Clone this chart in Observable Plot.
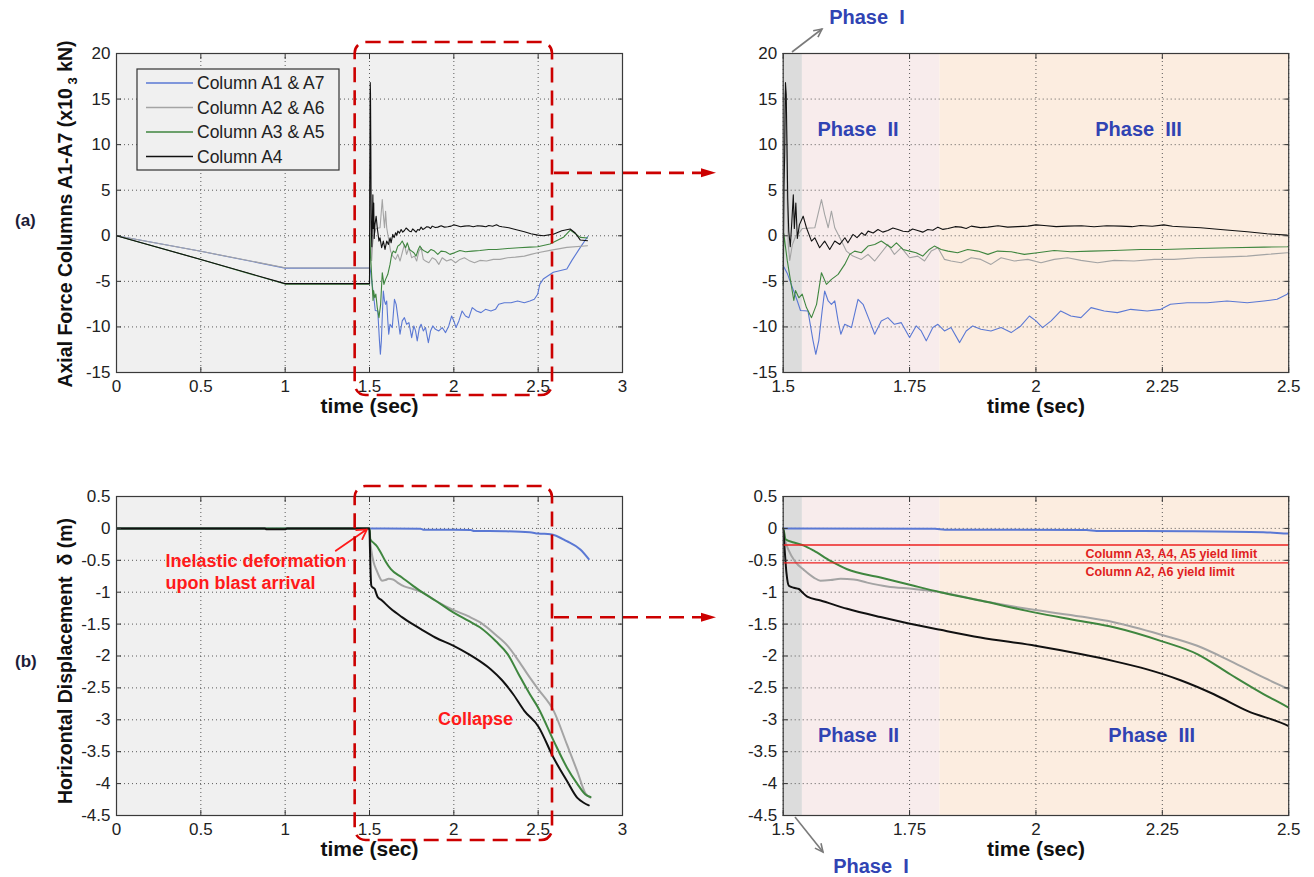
<!DOCTYPE html>
<html><head><meta charset="utf-8">
<script src="https://cdn.jsdelivr.net/npm/d3@7"></script>
<script src="https://cdn.jsdelivr.net/npm/@observablehq/plot@0.6"></script>
<style>
html,body{margin:0;padding:0;background:#fff;}
#root{position:relative;width:1314px;height:877px;overflow:hidden;background:#fff;}
#root > svg{position:absolute;overflow:visible;}
</style></head><body><div id="root"></div>
<script>
// ---------- DATA ----------
const seriesKeys = ["A1", "A2", "A3", "A4"];
const seriesNames = ["Column A1 & A7", "Column A2 & A6", "Column A3 & A5", "Column A4"];

// Axial force (x10^3 kN) vs time (sec): [t, value]
const forceA1 = [[0,0],[0.5,-1.7],[1.0,-3.55],[1.5,-3.55],[1.5012,-3.4],[1.5079,-4.1],[1.5177,-5.6],[1.5276,-7.1],[1.5342,-8.2],[1.549,-8.25],[1.559,-11.5],[1.5645,-13.0],[1.5704,-11.5],[1.577,-8.25],[1.582,-6.06],[1.589,-7.15],[1.5954,-7.52],[1.602,-7.15],[1.6086,-9.34],[1.614,-10.8],[1.6217,-9.71],[1.635,-10.07],[1.648,-6.97],[1.658,-7.52],[1.671,-9.34],[1.681,-10.8],[1.694,-9.34],[1.707,-8.98],[1.72,-9.71],[1.7336,-9.53],[1.75,-11.17],[1.763,-9.89],[1.773,-10.44],[1.783,-11.53],[1.796,-10.07],[1.806,-9.71],[1.819,-10.44],[1.832,-10.07],[1.849,-11.72],[1.862,-10.44],[1.875,-9.89],[1.891,-10.26],[1.911,-10.44],[1.931,-10.07],[1.951,-10.62],[1.97,-9.89],[1.987,-8.8],[2.0,-9.34],[2.013,-10.07],[2.03,-9.34],[2.049,-8.25],[2.069,-8.8],[2.089,-8.98],[2.109,-7.88],[2.135,-8.25],[2.161,-8.43],[2.1875,-8.07],[2.22,-8.25],[2.247,-8.07],[2.266,-7.52],[2.299,-7.34],[2.339,-7.34],[2.378,-7.15],[2.418,-7.34],[2.451,-7.15],[2.477,-6.97],[2.497,-6.42],[2.51,-5.3],[2.53,-4.75],[2.59,-4.0],[2.67,-3.65],[2.70,-2.7],[2.75,-1.27],[2.793,-0.1]];
const forceA2 = [[0,0],[0.5,-1.7],[1.0,-3.5],[1.5,-3.55],[1.5012,3],[1.503,15.5],[1.5045,16],[1.506,14],[1.508,4],[1.51,-1],[1.513,-2.7],[1.518,-1.0],[1.525,0.0],[1.531,0.3],[1.538,0.8],[1.5625,0.88],[1.5757,3.98],[1.582,2.34],[1.589,0.88],[1.5954,2.7],[1.602,0.88],[1.612,-0.22],[1.625,-1.68],[1.638,-2.23],[1.6546,-2.59],[1.6678,-2.04],[1.681,-2.77],[1.694,-1.86],[1.707,-0.95],[1.72,-2.04],[1.7336,-1.31],[1.75,-2.41],[1.766,-2.23],[1.7796,-2.77],[1.7928,-1.68],[1.806,-1.31],[1.819,-2.59],[1.832,-2.77],[1.852,-2.96],[1.872,-2.41],[1.891,-2.59],[1.911,-3.14],[1.931,-2.41],[1.957,-2.77],[1.984,-2.59],[2.01,-2.96],[2.036,-2.59],[2.0625,-2.41],[2.089,-2.7],[2.122,-2.96],[2.155,-2.7],[2.194,-2.77],[2.234,-2.59],[2.273,-2.59],[2.319,-2.41],[2.365,-2.34],[2.418,-2.23],[2.457,-2.04],[2.497,-1.86],[2.57,-1.6],[2.67,-1.27],[2.793,-1.09]];
const forceA3 = [[0,0],[0.5,-2.6],[1.0,-5.3],[1.5,-5.3],[1.5012,0.25],[1.504,-1.0],[1.508,-2.7],[1.5144,-4.9],[1.521,-7.1],[1.5243,-6.0],[1.531,-6.8],[1.5376,-6.4],[1.546,-7.88],[1.556,-8.98],[1.566,-7.52],[1.5757,-4.05],[1.5855,-5.33],[1.5954,-4.78],[1.6086,-4.23],[1.6217,-3.14],[1.6316,-2.04],[1.6414,-1.68],[1.6546,-1.86],[1.6678,-1.13],[1.681,-0.95],[1.694,-0.58],[1.704,-0.95],[1.714,-1.31],[1.724,-0.77],[1.737,-1.5],[1.75,-1.68],[1.763,-1.86],[1.776,-2.23],[1.789,-1.5],[1.799,-1.13],[1.8125,-1.5],[1.826,-1.68],[1.845,-1.86],[1.865,-1.5],[1.885,-1.68],[1.905,-2.04],[1.924,-1.68],[1.951,-1.75],[1.977,-2.04],[2.003,-1.86],[2.036,-1.61],[2.069,-1.75],[2.109,-1.68],[2.155,-1.61],[2.207,-1.5],[2.253,-1.5],[2.319,-1.39],[2.385,-1.31],[2.451,-1.24],[2.497,-1.2],[2.57,-0.9],[2.65,-0.17],[2.69,0.63],[2.75,-0.17],[2.793,-0.25]];
const forceA4 = [[0,0],[0.5,-2.6],[1.0,-5.25],[1.5,-5.25],[1.5015,5.4],[1.503,9],[1.5045,16.8],[1.506,15.5],[1.5075,10],[1.509,4],[1.511,0.5],[1.514,-1.2],[1.517,1.5],[1.52,4.5],[1.522,0.8],[1.525,3.6],[1.528,-0.3],[1.532,1.2],[1.5395,2.15],[1.546,0.88],[1.556,-0.58],[1.5625,-0.22],[1.572,-1.31],[1.582,-0.58],[1.592,-1.5],[1.602,-0.58],[1.612,-0.95],[1.622,-0.22],[1.628,-0.77],[1.638,0.15],[1.646,-0.2],[1.655,0.33],[1.662,0.05],[1.668,0.51],[1.678,0.3],[1.6875,0.69],[1.697,0.4],[1.707,0.58],[1.717,0.85],[1.727,0.69],[1.737,0.5],[1.747,0.44],[1.756,0.75],[1.766,0.58],[1.776,0.4],[1.786,0.69],[1.796,0.6],[1.806,0.95],[1.816,0.7],[1.826,0.8],[1.84,1.0],[1.852,0.95],[1.862,0.8],[1.872,1.06],[1.89,0.9],[1.905,0.95],[1.925,1.1],[1.944,0.95],[1.964,1.0],[1.984,1.06],[2.0,1.2],[2.016,1.13],[2.04,1.0],[2.0625,1.06],[2.09,1.1],[2.115,0.99],[2.14,1.1],[2.168,1.06],[2.19,1.0],[2.207,1.13],[2.23,1.05],[2.253,1.2],[2.27,1.05],[2.286,0.99],[2.326,0.88],[2.365,0.69],[2.418,0.44],[2.457,0.22],[2.497,0.07],[2.532,0.0],[2.59,0.18],[2.64,0.55],[2.69,0.75],[2.72,0.3],[2.75,-0.47],[2.793,-0.55]];

// Horizontal displacement (m) vs time (sec): [t, value]
const dispA1 = [[0,0],[1.5,0],[1.8,-0.005],[1.82,-0.02],[2.1,-0.025],[2.12,-0.04],[2.3,-0.045],[2.45,-0.06],[2.5,-0.08],[2.573,-0.09],[2.67,-0.2],[2.75,-0.33],[2.8,-0.48]];
const dispA2 = [[0,0],[1.5,0],[1.5026,-0.14],[1.5112,-0.35],[1.5244,-0.53],[1.5409,-0.65],[1.5606,-0.77],[1.5738,-0.82],[1.5936,-0.81],[1.6134,-0.79],[1.6398,-0.8],[1.6661,-0.85],[1.7057,-0.91],[1.7584,-0.95],[1.8111,-1.0],[1.89,-1.13],[1.999,-1.28],[2.088,-1.38],[2.154,-1.47],[2.2495,-1.67],[2.319,-1.84],[2.385,-2.08],[2.451,-2.34],[2.5,-2.52],[2.592,-2.86],[2.671,-3.39],[2.731,-3.8],[2.78,-4.15],[2.81,-4.22]];
const dispA3 = [[0,0],[1.5,0],[1.5046,-0.17],[1.521,-0.22],[1.541,-0.27],[1.5606,-0.35],[1.5936,-0.51],[1.6266,-0.64],[1.6925,-0.77],[1.7584,-0.9],[1.8111,-1.0],[1.89,-1.13],[1.999,-1.32],[2.088,-1.45],[2.154,-1.55],[2.2495,-1.77],[2.319,-1.97],[2.385,-2.29],[2.451,-2.6],[2.5,-2.81],[2.592,-3.33],[2.671,-3.75],[2.731,-4.0],[2.78,-4.17],[2.81,-4.21]];
const dispA4 = [[0,0],[0.88,0],[0.89,-0.015],[1.0,-0.015],[1.01,0],[1.5,0],[1.5026,-0.3],[1.5066,-0.71],[1.5112,-0.9],[1.521,-0.93],[1.531,-0.95],[1.5376,-1.0],[1.5475,-1.07],[1.574,-1.13],[1.6266,-1.26],[1.6925,-1.39],[1.7485,-1.49],[1.811,-1.59],[1.89,-1.71],[1.999,-1.84],[2.088,-1.97],[2.154,-2.08],[2.22,-2.21],[2.286,-2.38],[2.352,-2.6],[2.418,-2.86],[2.5,-3.1],[2.592,-3.6],[2.671,-3.96],[2.731,-4.22],[2.77,-4.3],[2.80,-4.34]];

// Ticks
const fullTimeTicks = [0, 0.5, 1, 1.5, 2, 2.5, 3];
const zoomTimeTicks = [1.5, 1.75, 2, 2.25, 2.5];
const forceTicks = [-15, -10, -5, 0, 5, 10, 15, 20];
const dispTicks = [0.5, 0, -0.5, -1, -1.5, -2, -2.5, -3, -3.5, -4, -4.5];

// Phases (zoomed panels)
const phaseNames = ["I", "II", "III"];
const phaseStart = [1.5, 1.538, 1.81];
const phaseEnd = [1.538, 1.81, 2.5];

// Yield limits (m)
const yieldValues = [-0.26, -0.54];
const yieldLabels = ["Column A3, A4, A5 yield limit", "Column A2, A6 yield limit"];

// ---------- STYLE ----------
const FONT = "Arial, 'Liberation Sans', sans-serif";
const seriesColor = {A1: "#5a78d4", A2: "#a4a4a4", A3: "#3f863f", A4: "#111111"};
const phaseFill = {I: "#dcdcdc", II: "#f8ecec", III: "#fcede0"};
const RED = "#cc0000";
const PHASE_BLUE = "#3043b3";

const forceSeries = [forceA1, forceA2, forceA3, forceA4];
const dispSeries = [dispA1, dispA2, dispA3, dispA4];
const phases = phaseNames.map((name, i) => ({name, start: phaseStart[i], end: phaseEnd[i]}));

const root = document.getElementById("root");
const fmt = d => String(d);

function panel({xDomain, yDomain, xTicks, yTicks, width, mL, mR, bg, bands, series, lineWidth, curve, extra}) {
  const marks = [];
  if (bg) marks.push(Plot.frame({fill: bg}));
  if (bands) for (const b of bands) marks.push(Plot.rect([b], {x1: "start", x2: "end", fill: phaseFill[b.name]}));
  marks.push(Plot.gridX(xTicks, {stroke: "#4a4a4a", strokeOpacity: 0.9, strokeDasharray: "1,3"}));
  marks.push(Plot.gridY(yTicks, {stroke: "#4a4a4a", strokeOpacity: 0.9, strokeDasharray: "1,3"}));
  series.forEach((data, i) => {
    marks.push(Plot.line(data, {x: d => d[0], y: d => d[1], stroke: seriesColor[seriesKeys[i]], strokeWidth: lineWidth, curve: curve || "linear", clip: true}));
  });
  if (extra) marks.push(...extra);
  for (const a of ["top", "bottom"]) marks.push(Plot.axisX(xTicks, {anchor: a, tickSize: -5, tickFormat: () => "", stroke: "#333", label: null}));
  for (const a of ["left", "right"]) marks.push(Plot.axisY(yTicks, {anchor: a, tickSize: -5, tickFormat: () => "", stroke: "#333", label: null}));
  marks.push(Plot.axisX(xTicks, {anchor: "bottom", tickSize: 0, tickPadding: 7, tickFormat: fmt, label: null, fill: "#222", fontSize: 17}));
  marks.push(Plot.axisY(yTicks, {anchor: "left", tickSize: 0, tickPadding: 6, tickFormat: fmt, label: null, fill: "#222", fontSize: 17}));
  marks.push(Plot.frame({stroke: "#3a3a3a", strokeWidth: 1.2}));
  marks.push(Plot.text(["time (sec)"], {text: d => d, frameAnchor: "bottom", dy: 40, fontWeight: "bold", fontSize: 21, fill: "#111"}));
  return Plot.plot({
    width, height: 420, marginLeft: mL, marginRight: mR, marginTop: 53, marginBottom: 48,
    x: {domain: xDomain, label: null}, y: {domain: yDomain, label: null},
    style: {fontFamily: FONT, fontSize: "17px", background: "transparent", color: "#222", overflow: "visible"},
    marks
  });
}
function place(svg, left, top) { svg.style.left = left + "px"; svg.style.top = top + "px"; root.appendChild(svg); return svg; }

const phaseText = (label, x, y) => Plot.text([label], {text: d => d, x, y, fill: PHASE_BLUE, fontWeight: "bold", fontSize: 20});

// (a) left
const pA = place(panel({xDomain: [0, 3], yDomain: [-15, 20], xTicks: fullTimeTicks, yTicks: forceTicks,
  width: 650, mL: 116, mR: 28, bg: "#f0f0f0", series: forceSeries, lineWidth: 1.1}), 0, 0);
// (a) right
const pAz = place(panel({xDomain: [1.5, 2.5], yDomain: [-15, 20], xTicks: zoomTimeTicks, yTicks: forceTicks,
  width: 614, mL: 82.7, mR: 25.8, bands: phases, series: forceSeries, lineWidth: 1.1,
  extra: [phaseText("Phase\u00a0\u00a0II", 1.648, 11.6), phaseText("Phase\u00a0\u00a0III", 2.203, 11.6)]}), 700, 0);
// (b) left
const pB = place(panel({xDomain: [0, 3], yDomain: [-4.5, 0.5], xTicks: fullTimeTicks, yTicks: dispTicks,
  width: 650, mL: 116, mR: 28, bg: "#f0f0f0", series: dispSeries, lineWidth: 2, curve: "monotone-x",
  extra: [
    Plot.text(["Inelastic deformation", "upon blast arrival"], {text: d => d, x: 0.29, y: (d, i) => [-0.51, -0.855][i], textAnchor: "start", fill: "#ff1a1a", fontWeight: "bold", fontSize: 18}),
    Plot.arrow([0], {x1: 1.3, y1: -0.35, x2: 1.485, y2: -0.015, stroke: "#ff1a1a", strokeWidth: 1.8, headLength: 9}),
    Plot.text(["Collapse"], {text: d => d, x: 2.128, y: -2.99, fill: "#ff1a1a", fontWeight: "bold", fontSize: 18})
  ]}), 0, 443);
// (b) right
const pBz = place(panel({xDomain: [1.5, 2.5], yDomain: [-4.5, 0.5], xTicks: zoomTimeTicks, yTicks: dispTicks,
  width: 614, mL: 82.7, mR: 25.8, bands: phases, series: dispSeries, lineWidth: 2, curve: "monotone-x",
  extra: [
    Plot.ruleY(yieldValues, {stroke: "#ee2222", strokeWidth: 1.3}),
    Plot.text(yieldLabels, {text: d => d, x: 2.098, y: (d, i) => [-0.40, -0.69][i], textAnchor: "start", fill: "#e01e1e", fontWeight: "bold", fontSize: 12.5}),
    phaseText("Phase\u00a0\u00a0II", 1.649, -3.25), phaseText("Phase\u00a0\u00a0III", 2.229, -3.25)
  ]}), 700, 443);

// ---------- OVERLAY (annotations) ----------
const ov = d3.select(root).append("svg").attr("width", 1314).attr("height", 877)
  .style("left", "0px").style("top", "0px").style("font-family", FONT);

// red dashed zoom boxes and arrows
function zoomBox(plot, offY, yTop, yBot, arrowVal) {
  const x = plot.scale("x"), y = plot.scale("y");
  const x1 = x.apply(1.415), x2 = x.apply(2.585);
  ov.append("rect").attr("x", x1).attr("y", offY + yTop).attr("width", x2 - x1).attr("height", yBot - yTop)
    .attr("rx", 11).attr("fill", "none").attr("stroke", RED).attr("stroke-width", 2.6).attr("stroke-dasharray", "15,8");
  const ay = offY + y.apply(arrowVal);
  ov.append("line").attr("x1", x2 + 2).attr("x2", 703).attr("y1", ay).attr("y2", ay)
    .attr("stroke", RED).attr("stroke-width", 2.6).attr("stroke-dasharray", "15,8");
  ov.append("path").attr("d", `M701,${ay - 4.5}L716,${ay}L701,${ay + 4.5}Z`).attr("fill", RED);
}
zoomBox(pA, 0, 42, 395, 6.85);
zoomBox(pB, 443, 43, 397, -1.4);

// legend
const lg = ov.append("g");
lg.append("rect").attr("x", 137).attr("y", 69).attr("width", 202).attr("height", 101).attr("fill", "#f0f0f0").attr("stroke", "#333").attr("stroke-width", 1.2);
seriesNames.forEach((name, i) => {
  const yy = 83 + i * 24.5;
  lg.append("line").attr("x1", 146).attr("x2", 193).attr("y1", yy).attr("y2", yy).attr("stroke", seriesColor[seriesKeys[i]]).attr("stroke-width", 1.5);
  lg.append("text").attr("x", 197).attr("y", yy).attr("dy", "0.35em").attr("font-size", 17.5).attr("fill", "#222").text(name);
});

// y axis titles
const t1 = ov.append("text").attr("transform", "translate(72,214) rotate(-90)").attr("text-anchor", "middle")
  .attr("font-weight", "bold").attr("font-size", 19.5).attr("fill", "#111");
t1.append("tspan").text("Axial Force Columns A1-A7 (x10");
t1.append("tspan").attr("dy", 5).attr("font-size", 13).text("\u00a03");
t1.append("tspan").attr("dy", -5).text("\u00a0kN)");
ov.append("text").attr("transform", "translate(72,661) rotate(-90)").attr("text-anchor", "middle")
  .attr("font-weight", "bold").attr("font-size", 19.5).attr("fill", "#111").text("Horizontal Displacement\u00a0\u00a0\u03b4 (m)");

// panel tags
ov.append("text").attr("x", 15).attr("y", 226).attr("font-weight", "bold").attr("font-size", 17).attr("fill", "#1d1d38").text("(a)");
ov.append("text").attr("x", 15).attr("y", 667).attr("font-weight", "bold").attr("font-size", 17).attr("fill", "#1d1d38").text("(b)");

// Phase I callouts
function callout(label, tx, ty, ax1, ay1, ax2, ay2) {
  ov.append("line").attr("x1", ax1).attr("y1", ay1).attr("x2", ax2).attr("y2", ay2).attr("stroke", "#7a7a7a").attr("stroke-width", 1.6);
  const ang = Math.atan2(ay2 - ay1, ax2 - ax1), L = 9, w = 0.45;
  const p1 = [ax2 - L * Math.cos(ang - w), ay2 - L * Math.sin(ang - w)];
  const p2 = [ax2 - L * Math.cos(ang + w), ay2 - L * Math.sin(ang + w)];
  ov.append("path").attr("d", `M${p1}L${ax2},${ay2}L${p2}`).attr("fill", "none").attr("stroke", "#7a7a7a").attr("stroke-width", 1.6);
  ov.append("text").attr("x", tx).attr("y", ty).attr("dy", "0.35em").attr("text-anchor", "middle")
    .attr("font-weight", "bold").attr("font-size", 20).attr("fill", PHASE_BLUE).text(label);
}
callout("Phase\u00a0\u00a0I", 867, 17, 792, 52, 822, 29);
callout("Phase\u00a0\u00a0I", 871, 866, 795, 817, 823, 852);
</script></body></html>
